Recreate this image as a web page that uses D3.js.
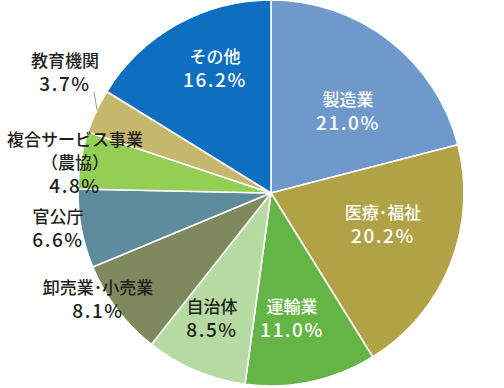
<!DOCTYPE html>
<html>
<head>
<meta charset="utf-8">
<script src="https://cdn.jsdelivr.net/npm/d3@7"></script>
<style>
  body { margin: 0; background: #fff; }
  svg text { font-family: "Noto Sans CJK JP", "Noto Sans", sans-serif; font-weight: 500; }
</style>
</head>
<body>
<svg id="chart" width="504" height="388"></svg>
<script>
// slices clockwise from 12 o'clock
var names = ["製造業", "医療･福祉", "運輸業", "自治体", "卸売業･小売業", "官公庁", "複合サービス事業", "教育機関", "その他"];
var subNames = ["", "", "", "", "", "", "（農協）", "", ""];
var values = [21.0, 20.2, 11.0, 8.5, 8.1, 6.6, 4.8, 3.7, 16.2];
var colors = ["#7099cb", "#b1a345", "#65b446", "#b5dba2", "#7e8a5e", "#5f8c9c", "#93cf55", "#c5b76b", "#0e6fc1"];
var labelColors = ["#fff", "#fff", "#fff", "#231f20", "#231f20", "#231f20", "#231f20", "#231f20", "#fff"];
// label anchor positions (centre of text block)
var labelPos = [[348, 112], [383, 225], [292, 319], [212, 319], [98, 300], [58, 229], [75, 163], [65, 73], [215, 69]];

var svg = d3.select("#chart"),
    cx = 271, cy = 193, radius = 193;

var pie = d3.pie().sort(null).value(function(d) { return d; });
var arc = d3.arc().innerRadius(0).outerRadius(radius);

var g = svg.append("g").attr("transform", "translate(" + cx + "," + cy + ")");

g.selectAll("path")
  .data(pie(values))
  .enter().append("path")
  .attr("d", arc)
  .attr("fill", function(d, i) { return colors[i]; })
  .attr("stroke", "#fff")
  .attr("stroke-width", 1.6)
  .attr("stroke-linejoin", "round");

// leader line for 教育機関
svg.append("line")
  .attr("x1", 94).attr("y1", 92)
  .attr("x2", 97).attr("y2", 110)
  .attr("stroke", "#999").attr("stroke-width", 1);

var labels = svg.append("g").selectAll("text")
  .data(names)
  .enter().append("text")
  .attr("text-anchor", "middle")
  .attr("fill", function(d, i) { return labelColors[i]; })
  .attr("transform", function(d, i) { return "translate(" + labelPos[i][0] + "," + labelPos[i][1] + ")"; });

labels.each(function(d, i) {
  var t = d3.select(this);
  var lines = [{ s: d, pct: false }];
  if (subNames[i]) lines.push({ s: subNames[i], pct: false });
  lines.push({ s: values[i].toFixed(1) + "%", pct: true });
  var step = 23;
  var y0 = -((lines.length - 1) * step) / 2;
  lines.forEach(function(l, k) {
    t.append("tspan")
      .attr("x", 0)
      .attr("y", y0 + k * step)
      .attr("dy", "0.35em")
      .attr("font-size", l.pct ? 19 : 17)
      .attr("letter-spacing", l.pct ? 1.6 : 0)
      .text(l.s);
  });
});
</script>
</body>
</html>
